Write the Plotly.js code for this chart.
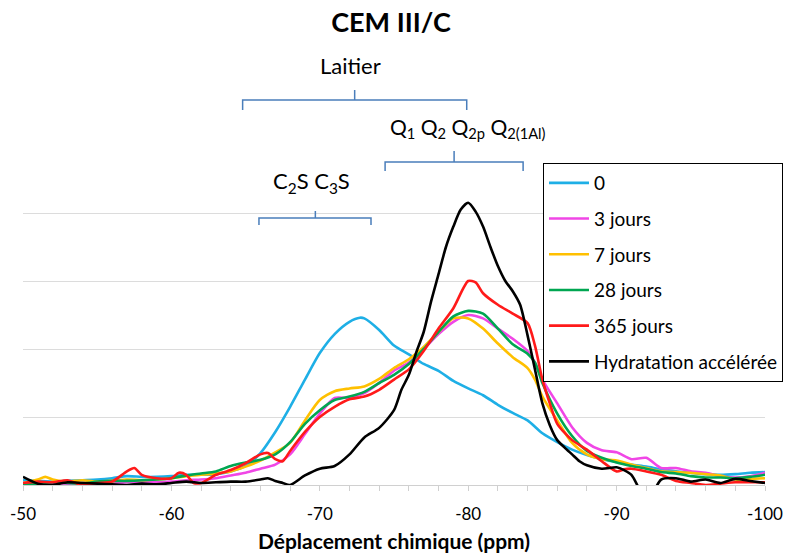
<!DOCTYPE html>
<html>
<head>
<meta charset="utf-8">
<script src="https://cdn.plot.ly/plotly-3.0.1.min.js"></script>
<style>
html,body{margin:0;padding:0;background:#fff;}
#chart{width:786px;height:558px;}
</style>
</head>
<body>
<div id="chart"></div>
<script>
// ---- Data ----
const seriesNames = ["0", "3 jours", "7 jours", "28 jours", "365 jours", "Hydratation accélérée"];

const ppm0 = [-50,-51,-52,-53,-54,-55,-56,-57,-58,-59,-60,-61,-62,-63,-64,-65,-66,-67,-68,-69,-70,-71,-72,-72.7,-73,-74,-75,-76,-77,-78,-79,-80,-81,-82,-83,-84,-85,-86,-87,-88,-89,-90,-91,-92,-93,-94,-95,-96,-97,-98,-99,-100];
const int0 = [0.07,0.06,0.05,0.06,0.07,0.08,0.10,0.13,0.12,0.12,0.13,0.15,0.15,0.16,0.20,0.28,0.47,0.78,1.15,1.55,1.94,2.22,2.40,2.46,2.45,2.28,2.05,1.92,1.78,1.68,1.53,1.42,1.32,1.18,1.06,0.95,0.76,0.63,0.52,0.44,0.38,0.34,0.30,0.27,0.23,0.20,0.18,0.16,0.15,0.16,0.18,0.19];

const ppm3 = [-50,-51,-52,-53,-54,-55,-56,-57,-58,-59,-60,-61,-62,-63,-64,-65,-66,-67,-68,-69,-70,-71,-72,-73,-74,-75,-76,-77,-78,-79,-80,-81,-82,-83,-84,-84.5,-85,-86,-87,-88,-89,-90,-91,-92,-93,-94,-95,-96,-97,-98,-99,-100];
const int3 = [0.03,0.02,0.03,0.02,0.03,0.02,0.02,0.04,0.05,0.04,0.05,0.07,0.08,0.10,0.14,0.18,0.24,0.30,0.45,0.75,1.05,1.28,1.28,1.35,1.50,1.68,1.80,2.00,2.22,2.40,2.50,2.45,2.30,2.15,1.97,1.80,1.55,1.20,0.85,0.62,0.51,0.48,0.38,0.40,0.25,0.25,0.20,0.18,0.13,0.11,0.13,0.18];

const ppm7 = [-50,-51,-51.5,-52,-53,-54,-55,-56,-57,-58,-59,-60,-61,-62,-63,-64,-65,-66,-67,-68,-69,-70,-71,-72,-73,-74,-75,-76,-77,-78,-79,-80,-81,-82,-83,-84,-84.5,-85,-86,-87,-88,-89,-90,-91,-92,-93,-94,-95,-96,-97,-98,-99,-100];
const int7 = [0.03,0.08,0.12,0.08,0.05,0.07,0.05,0.06,0.08,0.07,0.08,0.10,0.13,0.15,0.17,0.20,0.27,0.36,0.48,0.62,0.95,1.25,1.38,1.42,1.45,1.56,1.72,1.85,2.03,2.25,2.45,2.45,2.30,2.08,1.88,1.72,1.55,1.30,0.95,0.62,0.45,0.38,0.36,0.30,0.25,0.20,0.19,0.18,0.16,0.14,0.08,0.09,0.10];

const ppm28 = [-50,-51,-52,-53,-54,-55,-56,-57,-58,-59,-60,-61,-62,-63,-64,-65,-66,-67,-68,-69,-70,-71,-72,-73,-74,-75,-76,-77,-78,-79,-80,-81,-82,-83,-84,-84.5,-85,-86,-87,-88,-89,-90,-91,-92,-93,-94,-95,-96,-97,-98,-99,-100];
const int28 = [0.00,0.02,0.04,0.03,0.02,0.05,0.06,0.06,0.07,0.08,0.10,0.14,0.17,0.20,0.28,0.33,0.37,0.45,0.63,0.90,1.10,1.25,1.30,1.37,1.50,1.62,1.78,2.00,2.25,2.48,2.56,2.52,2.30,2.07,1.93,1.80,1.50,1.05,0.72,0.50,0.40,0.33,0.28,0.24,0.19,0.17,0.13,0.11,0.11,0.10,0.12,0.15];

const ppm365 = [-50,-51,-52,-53,-54,-55,-56,-57,-57.5,-58,-59,-60,-60.5,-61,-61.5,-62,-63,-64,-65,-66,-66.5,-67,-67.5,-68,-69,-70,-71,-72,-73,-74,-75,-76,-77,-78,-79,-80,-80.5,-81,-82,-83,-84,-84.5,-85,-85.5,-86,-87,-88,-89,-90,-90.5,-91,-92,-93,-94,-95,-96,-97,-98,-99,-100];
const int365 = [0.03,0.05,0.04,0.07,0.00,0.03,0.05,0.20,0.25,0.15,0.10,0.10,0.18,0.15,0.03,0.03,0.15,0.22,0.32,0.45,0.47,0.38,0.35,0.50,0.78,1.00,1.15,1.26,1.30,1.40,1.55,1.70,1.97,2.30,2.60,3.00,2.98,2.82,2.65,2.52,2.38,2.05,1.55,1.20,0.90,0.66,0.52,0.35,0.20,0.23,0.24,0.20,0.15,0.06,0.03,0.00,0.02,0.04,0.04,0.04];

const ppmHA = [-50,-51,-52,-53,-54,-55,-56,-57,-58,-59,-60,-61,-62,-63,-64,-65,-66,-66.5,-67,-67.5,-68,-69,-70,-71,-72,-73,-74,-75,-75.5,-76,-76.5,-77,-77.5,-78,-78.5,-79,-79.5,-80,-80.5,-81,-81.5,-82,-82.5,-83,-83.5,-84,-84.5,-85,-85.5,-86,-86.5,-87,-87.5,-88,-89,-90,-90.5,-91,-91.5,-92,-92.5,-93,-94,-95,-96,-97,-98,-99,-100];
const intHA = [0.12,0.02,0.00,0.04,0.03,0.02,0.01,0.00,0.02,0.01,0.03,0.05,0.03,0.04,0.05,0.05,0.08,0.10,0.06,0.03,0.00,0.14,0.24,0.28,0.45,0.70,0.84,1.10,1.40,1.62,1.95,2.25,2.70,3.10,3.50,3.80,4.05,4.15,4.02,3.80,3.50,3.22,3.00,2.85,2.65,2.20,1.70,1.20,0.88,0.66,0.55,0.45,0.35,0.29,0.24,0.26,0.22,0.15,-0.05,-0.30,-0.10,0.08,0.10,0.05,0.08,0.03,0.09,0.06,0.03];

const seriesX = [ppm0, ppm3, ppm7, ppm28, ppm365, ppmHA];
const seriesY = [int0, int3, int7, int28, int365, intHA];
const seriesColors = ["#1EAFE6", "#F046E6", "#FFC000", "#00A651", "#FF1A1A", "#000000"];

const xTickVals = [-50, -60, -70, -80, -90, -100];
const xTickText = ["-50", "-60", "-70", "-80", "-90", "-100"];

// bracket groups: [label, left ppm, right ppm, centre ppm]
const bracketLabels = ["Laitier", "Q<sub>1</sub> Q<sub>2</sub> Q<sub>2p</sub> Q<sub>2(1Al)</sub>", "C<sub>2</sub>S C<sub>3</sub>S"];
const bracketLeft = [-64.8, -74.4, -65.9];
const bracketRight = [-79.9, -83.7, -73.45];
const bracketMid = [-72.35, -79.05, -69.7];

// ---- Chart ----
const FONT = "Lato, 'Open Sans', sans-serif";
const traces = seriesNames.map((n, i) => ({
  type: "scatter", mode: "lines", name: n,
  x: seriesX[i], y: seriesY[i],
  legendgroup: "g" + i,
  line: {color: seriesColors[i], width: 2.6, shape: "spline", smoothing: 0.7},
  hoverinfo: "x+y+name"
}));

// bracket geometry in paper-y (plot area: bottom 485px, top 145px, 340px tall)
const bracketYs = [ // [horizontal line y, end y, tip y]
  [(485-100)/340, (485-110)/340, (485-90)/340],
  [(485-162)/340, (485-171)/340, (485-151)/340],
  [(485-218)/340, (485-225)/340, (485-211)/340]
];
const labelPos = [
  {x: -72.1, y: (485-66)/340, size: 22},
  {x: -80.0, y: (485-128)/340, size: 21},
  {x: -69.45, y: (485-182)/340, size: 22}
];

const shapes = [];
const annotations = [];
bracketLabels.forEach((lab, i) => {
  const [yh, ye, yt] = bracketYs[i];
  const L = bracketLeft[i], R = bracketRight[i], M = bracketMid[i];
  const path = `M ${L},${ye} L ${L},${yh} L ${R},${yh} L ${R},${ye} M ${M},${yh} L ${M},${yt}`;
  shapes.push({type: "path", xref: "x", yref: "paper", path: path,
    line: {color: "#4A7EBB", width: 1.5}});
  annotations.push({xref: "x", yref: "paper", x: labelPos[i].x, y: labelPos[i].y,
    text: lab, showarrow: false, xanchor: "center", yanchor: "middle",
    font: {family: FONT, size: labelPos[i].size, color: "#000"}});
});

const layout = {
  width: 786, height: 558,
  paper_bgcolor: "#fff", plot_bgcolor: "#fff",
  margin: {l: 23, r: 21, t: 145, b: 73, autoexpand: false},
  title: {text: "<b>CEM III/C</b>", font: {family: FONT, size: 27, color: "#000"},
    x: 391/786, xref: "container", xanchor: "center", y: 1 - 23/558, yref: "container", yanchor: "middle"},
  showlegend: true,
  legend: {x: 0.7008, y: 0.947, xanchor: "left", yanchor: "top",
    bordercolor: "#000", borderwidth: 1, bgcolor: "#fff",
    font: {family: FONT, size: 19, color: "#000"},
    tracegroupgap: 8, itemwidth: 40},
  xaxis: {range: [-50, -100], tickvals: xTickVals, ticktext: xTickText,
    showgrid: false, zeroline: false, showline: true, linecolor: "#D0D0D0", linewidth: 1,
    ticks: "outside", ticklen: 5, tickcolor: "#D0D0D0",
    minor: {dtick: 2, ticks: "outside", ticklen: 5, tickcolor: "#D0D0D0", showgrid: false},
    tickfont: {family: FONT, size: 17, color: "#000"},
    ticklabelstandoff: 9, automargin: false,
    title: {text: "<b>Déplacement chimique (ppm)</b>", font: {family: FONT, size: 21, color: "#000"}, standoff: 10}},
  yaxis: {range: [0, 5], dtick: 1, showticklabels: false, showgrid: true, automargin: false,
    gridcolor: "#DCDCDC", gridwidth: 1, zeroline: false, showline: false, ticks: ""},
  shapes: shapes,
  annotations: annotations
};

Plotly.newPlot("chart", traces, layout, {displayModeBar: false, staticPlot: true});
</script>
</body>
</html>
